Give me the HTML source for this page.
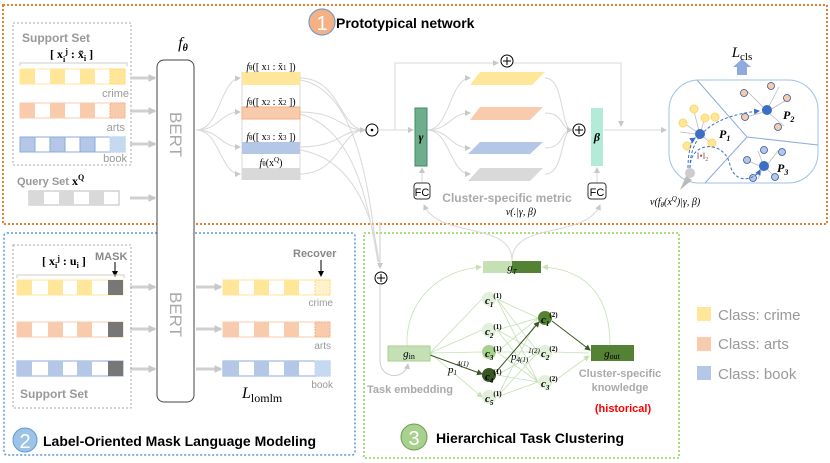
<!DOCTYPE html>
<html><head><meta charset="utf-8"><style>
body{margin:0;background:#fff}
svg{display:block;font-family:"Liberation Sans",sans-serif}
.s{font-family:"Liberation Serif",serif}
</style></head><body>
<svg width="830" height="463" viewBox="0 0 830 463" xmlns="http://www.w3.org/2000/svg">
<defs>
<marker id="ag" viewBox="0 0 6 6" markerUnits="userSpaceOnUse" markerWidth="6" markerHeight="6" refX="5" refY="3" orient="auto"><path d="M0,0 L6,3 L0,6z" fill="#c8c8c8"/></marker>
<marker id="agb" viewBox="0 0 6 6" markerUnits="userSpaceOnUse" markerWidth="8" markerHeight="8" refX="5" refY="3" orient="auto"><path d="M0,0 L6,3 L0,6z" fill="#c8c8c8"/></marker>
<marker id="agg" viewBox="0 0 6 6" markerUnits="userSpaceOnUse" markerWidth="6" markerHeight="6" refX="5" refY="3" orient="auto"><path d="M0,0 L6,3 L0,6z" fill="#c5e0b4"/></marker>
<marker id="agd" viewBox="0 0 6 6" markerUnits="userSpaceOnUse" markerWidth="6" markerHeight="6" refX="5" refY="3" orient="auto"><path d="M0,0 L6,3 L0,6z" fill="#385723"/></marker>
<marker id="ab" viewBox="0 0 6 6" markerUnits="userSpaceOnUse" markerWidth="6" markerHeight="6" refX="5" refY="3" orient="auto"><path d="M0,0 L6,3 L0,6z" fill="#000"/></marker>
<marker id="abl" viewBox="0 0 6 6" markerUnits="userSpaceOnUse" markerWidth="6" markerHeight="6" refX="5" refY="3" orient="auto"><path d="M0,0 L6,3 L0,6z" fill="#3d6fc4"/></marker>
</defs>
<!-- outer boxes -->
<rect x="3" y="5" width="824" height="219" fill="none" stroke="#ed7d31" stroke-width="2" stroke-dasharray="2,2"/>
<rect x="4" y="233" width="351" height="222" rx="3" fill="none" stroke="#5b9bd5" stroke-width="1.5" stroke-dasharray="2,2"/>
<rect x="364" y="233" width="315" height="225" fill="none" stroke="#92d050" stroke-width="1.5" stroke-dasharray="2,2"/>
<!-- title 1 -->
<circle cx="322" cy="22" r="13" fill="#f4b183" stroke="#7a9cc6" stroke-width="1.2"/>
<text x="322" y="30" font-size="20" fill="#fff" text-anchor="middle">1</text>
<text x="336" y="28" font-size="14" font-weight="bold">Prototypical network</text>
<!-- support set -->
<rect x="13" y="23" width="118" height="142" fill="none" stroke="#aaa" stroke-dasharray="2,2"/>
<text x="22" y="42" font-size="12" font-weight="bold" fill="#999">Support Set</text>
<text x="50" y="58" font-size="12" class="s" font-weight="bold">[ x<tspan font-size="8" dy="4">i</tspan><tspan font-size="8" dy="-8">j</tspan><tspan dy="4"> : x̃</tspan><tspan font-size="8" dy="3">i</tspan><tspan dy="-3"> ]</tspan></text>
<path d="M20,66 V63 H127 V66" fill="none" stroke="#ccc"/>
<rect x="20" y="69" width="105" height="15" fill="#fff" stroke="#ffe699"/>
<rect x="20" y="69" width="15" height="15" fill="#ffe699"/><rect x="50" y="69" width="15" height="15" fill="#ffe699"/><rect x="80" y="69" width="15" height="15" fill="#ffe699"/><rect x="110" y="69" width="15" height="15" fill="#ffe699" stroke="#ffd966" stroke-dasharray="2,1"/>
<rect x="20" y="103" width="105" height="15" fill="#fff" stroke="#f8cbad"/>
<rect x="20" y="103" width="15" height="15" fill="#f8cbad"/><rect x="50" y="103" width="15" height="15" fill="#f8cbad"/><rect x="80" y="103" width="15" height="15" fill="#f8cbad"/><rect x="110" y="103" width="15" height="15" fill="#f8cbad" stroke="#f4b183" stroke-dasharray="2,1"/>
<rect x="20" y="137" width="105" height="15" fill="#fff" stroke="#8faadc"/>
<rect x="20" y="137" width="15" height="15" fill="#b4c7e7" stroke="#8faadc"/><rect x="50" y="137" width="15" height="15" fill="#b4c7e7" stroke="#8faadc"/><rect x="80" y="137" width="15" height="15" fill="#b4c7e7" stroke="#8faadc"/><rect x="110" y="137" width="15" height="15" fill="#c5d9f1" stroke="#bdd7ee" stroke-dasharray="2,1"/>
<text x="129" y="97" font-size="11" fill="#999" text-anchor="end">crime</text>
<text x="125" y="131" font-size="11" fill="#999" text-anchor="end">arts</text>
<text x="127" y="162" font-size="11" fill="#999" text-anchor="end">book</text>
<text x="17" y="185" font-size="11" font-weight="bold" fill="#999">Query Set <tspan class="s" fill="#000" font-size="12">x<tspan font-size="8" dy="-5">Q</tspan></tspan></text>
<rect x="29" y="191" width="90" height="14" fill="#fff" stroke="#bbb"/>
<rect x="29" y="191" width="15" height="14" fill="#d9d9d9"/><rect x="59" y="191" width="15" height="14" fill="#d9d9d9"/><rect x="89" y="191" width="15" height="14" fill="#d9d9d9"/>
<g stroke="#d0d0d0" stroke-width="3" marker-end="url(#agb)">
<line x1="130" y1="78" x2="155" y2="78"/><line x1="130" y1="111" x2="155" y2="111"/><line x1="130" y1="144" x2="155" y2="144"/><line x1="130" y1="198" x2="155" y2="198"/>
<line x1="130" y1="287" x2="155" y2="287"/><line x1="130" y1="329" x2="155" y2="329"/><line x1="130" y1="369" x2="155" y2="369"/>
<line x1="196" y1="287" x2="221" y2="287"/><line x1="196" y1="329" x2="221" y2="329"/><line x1="196" y1="369" x2="221" y2="369"/>
</g>
<!-- BERT -->
<rect x="157" y="60" width="37" height="342" rx="7" fill="#fff" stroke="#444"/>
<text x="183" y="48" font-size="16" class="s" font-style="italic" text-anchor="middle">f<tspan font-size="10" dy="3" font-weight="bold">θ</tspan></text>
<text transform="translate(170,112) rotate(90)" font-size="17" fill="#aaa">BERT</text>
<text transform="translate(170,292) rotate(90)" font-size="17" fill="#aaa">BERT</text>
<!-- output bars -->
<g fill="none" stroke="#d8d8d8">
<path d="M196,130 C220,130 220,80 240,78" marker-end="url(#ag)"/>
<path d="M196,130 C220,130 220,112 240,112" marker-end="url(#ag)"/>
<path d="M196,130 C220,130 220,147 240,147" marker-end="url(#ag)"/>
<path d="M196,130 C220,130 220,174 240,174" marker-end="url(#ag)"/>
<path d="M300,78 C340,78 340,130 365,130"/><path d="M300,112 C340,112 340,130 365,130"/><path d="M300,147 C340,147 340,130 365,130"/><path d="M300,174 C340,174 340,130 365,130" marker-end="url(#ag)"/>
<path d="M300,80 C360,90 370,200 378,262"/><path d="M300,114 C360,130 370,220 378,262"/><path d="M300,150 C360,160 375,230 379,262"/>
<line x1="242" y1="72" x2="242" y2="180"/><line x1="300" y1="72" x2="300" y2="180"/>
</g>
<rect x="242" y="72" width="58" height="13" fill="#ffe699"/>
<rect x="242" y="107" width="58" height="12" fill="#f8cbad" stroke="#f4b183"/>
<rect x="242" y="142" width="58" height="12" fill="#b4c7e7"/>
<rect x="242" y="168" width="58" height="12" fill="#d9d9d9"/>
<g class="s" font-size="10" text-anchor="middle">
<text x="271" y="70"><tspan font-style="italic">f</tspan><tspan font-size="7">θ</tspan>([ x<tspan font-size="7">1</tspan> : x̃<tspan font-size="7">1</tspan> ])</text>
<text x="271" y="105"><tspan font-style="italic">f</tspan><tspan font-size="7">θ</tspan>([ x<tspan font-size="7">2</tspan> : x̃<tspan font-size="7">2</tspan> ])</text>
<text x="271" y="140"><tspan font-style="italic">f</tspan><tspan font-size="7">θ</tspan>([ x<tspan font-size="7">3</tspan> : x̃<tspan font-size="7">3</tspan> ])</text>
<text x="271" y="166"><tspan font-style="italic">f</tspan><tspan font-size="7">θ</tspan>(x<tspan font-size="7" dy="-4">Q</tspan><tspan dy="4">)</tspan></text>
</g>
<!-- odot -->
<circle cx="372" cy="130" r="6" fill="#fff" stroke="#000"/><circle cx="372" cy="130" r="1.3"/>
<g fill="none" stroke="#d8d8d8">
<line x1="378" y1="130" x2="413" y2="130" marker-end="url(#ag)"/>
<path d="M395,130 V63 H498" marker-end="url(#ag)"/>
<path d="M513,63 H621 V126" marker-end="url(#ag)"/>
<path d="M427,130 C450,130 450,78 470,78" marker-end="url(#ag)"/>
<path d="M427,130 C450,130 450,113 470,113" marker-end="url(#ag)"/>
<path d="M427,130 C450,130 450,148 470,148" marker-end="url(#ag)"/>
<path d="M427,130 C450,130 450,174 470,174" marker-end="url(#ag)"/>
<path d="M545,78 C565,78 560,130 572,130"/><path d="M545,113 C565,113 560,130 572,130"/><path d="M545,148 C565,148 560,130 572,130"/><path d="M545,174 C565,174 560,130 572,130" marker-end="url(#ag)"/>
<line x1="604" y1="130" x2="666" y2="130" marker-end="url(#ag)"/>
<line x1="422" y1="183" x2="422" y2="168" marker-end="url(#ag)"/>
<line x1="597" y1="183" x2="597" y2="168" marker-end="url(#ag)"/>
<path d="M512,261 C512,220 440,240 424,205" marker-end="url(#ag)"/>
<path d="M512,261 C512,220 585,240 600,205" marker-end="url(#ag)"/>
</g>
<rect x="415" y="108" width="12" height="58" fill="#70ad8e" stroke="#3b8a5e"/>
<text x="421" y="141" font-size="12" class="s" font-style="italic" font-weight="bold" text-anchor="middle">γ</text>
<rect x="591" y="108" width="12" height="58" fill="#b3ebd9"/>
<text x="597" y="141" font-size="12" class="s" font-style="italic" font-weight="bold" text-anchor="middle">β</text>
<rect x="414" y="183" width="16" height="16" rx="3" fill="#fff" stroke="#333"/><text x="422" y="196" font-size="11" text-anchor="middle">FC</text>
<rect x="588" y="183" width="18" height="16" rx="3" fill="#fff" stroke="#333"/><text x="597" y="196" font-size="11" text-anchor="middle">FC</text>
<polygon points="480,72 545,72 532,85 470,85" fill="#ffe699"/>
<polygon points="480,107 543,107 530,120 470,120" fill="#f8cbad"/>
<polygon points="480,142 543,142 530,154 468,154" fill="#b4c7e7"/>
<polygon points="480,168 543,168 530,181 468,181" fill="#d9d9d9"/>
<g fill="#fff" stroke="#000"><circle cx="507" cy="61" r="6"/><circle cx="579" cy="130" r="6"/><circle cx="381" cy="278" r="6"/></g>
<g stroke="#000"><path d="M503,61h8M507,57v8M575,130h8M579,126v8M377,278h8M381,274v8"/></g>
<text x="507" y="202" font-size="12" font-weight="bold" fill="#aaa" text-anchor="middle">Cluster-specific metric</text>
<text x="521" y="215" font-size="10" class="s" font-style="italic" text-anchor="middle">v(.|γ, β)</text>
<!-- blob -->
<rect x="669" y="80" width="149" height="103" rx="30" fill="#fff" stroke="#9dc3e6"/>
<g stroke="#8faadc" fill="none"><path d="M697,80 L747,137 L818,145 M747,137 L705,183"/></g>
<rect x="737" y="67" width="10" height="8" fill="#8faadc"/><polygon points="733,67 751,67 742,59" fill="#8faadc"/>
<text x="742" y="57" font-size="15" class="s" text-anchor="middle"><tspan font-style="italic">L</tspan><tspan font-size="11" dy="3">cls</tspan></text>
<g stroke="#bbb" stroke-width="0.8">
<path d="M694,111L699,131M685,124L697,132M705,117L701,131M689,145L697,136M710,143L703,136M680,132L696,134"/>
<path d="M747,91L765,109M779,87L768,108M788,99L770,110M746,117L764,112M784,126L770,114"/>
<path d="M758,151L763,164M778,151L767,165M748,161L760,166M758,179L762,169M776,178L767,169"/>
</g>
<g fill="#ffe699" stroke="#ffd966"><circle cx="694" cy="109" r="4"/><circle cx="683" cy="123" r="4"/><circle cx="705" cy="118" r="4"/><circle cx="715" cy="117" r="4"/><circle cx="712" cy="143" r="4"/><circle cx="687" cy="146" r="4"/></g>
<g fill="#f8cbad" stroke="#2f5597" stroke-width="0.8"><circle cx="744" cy="93" r="3.5"/><circle cx="771" cy="86" r="3.5"/><circle cx="787" cy="98" r="3.5"/><circle cx="745" cy="117" r="3.5"/><circle cx="778" cy="127" r="3.5"/></g>
<g fill="#b4c7e7" stroke="#2f5597" stroke-width="0.8"><circle cx="764" cy="150" r="3.5"/><circle cx="782" cy="152" r="3.5"/><circle cx="747" cy="160" r="3.5"/><circle cx="753" cy="178" r="3.5"/><circle cx="775" cy="177" r="3.5"/></g>
<g fill="#3d6fc4"><circle cx="700" cy="134" r="5"/><circle cx="767" cy="110" r="5"/><circle cx="764" cy="166" r="5"/></g>
<circle cx="690" cy="173" r="5" fill="#ccc"/>
<polygon points="680,190 686,176 692,180" fill="#bbb"/>
<g fill="none" stroke="#3d6fc4" stroke-dasharray="3,2">
<path d="M690,168 C690,130 720,115 759,111" marker-end="url(#abl)"/>
<path d="M688,168 C688,150 692,140 695,138" marker-end="url(#abl)"/>
<path d="M690,168 C690,140 725,140 730,165 C735,185 755,180 760,170" marker-end="url(#abl)"/>
</g>
<text x="719" y="138" font-size="12" class="s" font-weight="bold" font-style="italic">P<tspan font-size="8" dy="3">1</tspan></text>
<text x="783" y="119" font-size="12" class="s" font-weight="bold" font-style="italic">P<tspan font-size="8" dy="3">2</tspan></text>
<text x="777" y="172" font-size="12" class="s" font-weight="bold" font-style="italic">P<tspan font-size="8" dy="3">3</tspan></text>
<text x="697" y="159" font-size="9" class="s" fill="#a05050">‖•‖<tspan font-size="6" dy="2">2</tspan></text>
<text x="650" y="205" font-size="10" class="s" font-style="italic">v(f<tspan font-size="7" dy="2">θ</tspan><tspan dy="-2">(x</tspan><tspan font-size="7" dy="-4">Q</tspan><tspan dy="4">)|γ, β)</tspan></text>
<!-- section 2 -->
<circle cx="25" cy="440" r="12" fill="#9dc3e6" stroke="#5b9bd5"/>
<text x="25" y="448" font-size="20" fill="#fff" text-anchor="middle">2</text>
<text x="43" y="446" font-size="14" font-weight="bold">Label-Oriented Mask Language Modeling</text>
<rect x="13" y="245" width="118" height="163" fill="none" stroke="#aaa" stroke-dasharray="2,2"/>
<text x="42" y="265" font-size="12" class="s" font-weight="bold">[ x<tspan font-size="8" dy="3">i</tspan><tspan font-size="8" dy="-7">j</tspan><tspan dy="4"> : u</tspan><tspan font-size="8" dy="3">i</tspan><tspan dy="-3"> ]</tspan></text>
<text x="95" y="260" font-size="11" font-weight="bold" fill="#888">MASK</text>
<line x1="115" y1="262" x2="115" y2="276" stroke="#000" marker-end="url(#ab)"/>
<path d="M17,278 V275 H124 V278" fill="none" stroke="#ccc"/>
<text x="20" y="398" font-size="12" font-weight="bold" fill="#999">Support Set</text>
<rect x="17" y="280" width="106" height="15" fill="#fff" stroke="#ffe699"/><rect x="17" y="280" width="15" height="15" fill="#ffe699"/><rect x="48" y="280" width="15" height="15" fill="#ffe699"/><rect x="77" y="280" width="15" height="15" fill="#ffe699"/><rect x="108" y="280" width="15" height="15" fill="#777"/>
<rect x="17" y="322" width="106" height="15" fill="#fff" stroke="#f8cbad"/><rect x="17" y="322" width="15" height="15" fill="#f8cbad"/><rect x="48" y="322" width="15" height="15" fill="#f8cbad"/><rect x="77" y="322" width="15" height="15" fill="#f8cbad"/><rect x="108" y="322" width="15" height="15" fill="#777"/>
<rect x="17" y="361" width="106" height="15" fill="#fff" stroke="#8faadc"/><rect x="17" y="361" width="15" height="15" fill="#b4c7e7"/><rect x="48" y="361" width="15" height="15" fill="#b4c7e7"/><rect x="77" y="361" width="15" height="15" fill="#b4c7e7"/><rect x="108" y="361" width="15" height="15" fill="#777"/>
<rect x="223" y="280" width="107" height="15" fill="#fff" stroke="#ffe699"/><rect x="223" y="280" width="16" height="15" fill="#ffe699"/><rect x="254" y="280" width="15" height="15" fill="#ffe699"/><rect x="284" y="280" width="15" height="15" fill="#ffe699"/><rect x="315" y="280" width="15" height="15" fill="#fff2cc" stroke="#ffd966" stroke-dasharray="2,1"/>
<rect x="223" y="322" width="107" height="15" fill="#fff" stroke="#f8cbad"/><rect x="223" y="322" width="16" height="15" fill="#f8cbad"/><rect x="254" y="322" width="15" height="15" fill="#f8cbad"/><rect x="284" y="322" width="15" height="15" fill="#f8cbad"/><rect x="315" y="322" width="15" height="15" fill="#f8cbad" stroke="#f4b183" stroke-dasharray="2,1"/>
<rect x="223" y="361" width="107" height="15" fill="#fff" stroke="#8faadc"/><rect x="223" y="361" width="16" height="15" fill="#b4c7e7"/><rect x="254" y="361" width="15" height="15" fill="#b4c7e7"/><rect x="284" y="361" width="15" height="15" fill="#b4c7e7"/><rect x="315" y="361" width="15" height="15" fill="#c5d9f1" stroke="#bdd7ee" stroke-dasharray="2,1"/>
<text x="293" y="257" font-size="11" font-weight="bold" fill="#888">Recover</text>
<line x1="321" y1="260" x2="321" y2="276" stroke="#000" marker-end="url(#ab)"/>
<text x="333" y="306" font-size="10" fill="#999" text-anchor="end">crime</text>
<text x="331" y="349" font-size="10" fill="#999" text-anchor="end">arts</text>
<text x="333" y="388" font-size="10" fill="#999" text-anchor="end">book</text>
<text x="242" y="398" font-size="16" class="s"><tspan font-style="italic">L</tspan><tspan font-size="12" dy="4">lomlm</tspan></text>
<!-- section 3 -->
<circle cx="414" cy="437" r="13" fill="#a9d18e" stroke="#6a9c4d"/>
<text x="414" y="445" font-size="20" fill="#fff" text-anchor="middle">3</text>
<text x="436" y="443" font-size="14" font-weight="bold">Hierarchical Task Clustering</text>
<g fill="none" stroke="#ccc">
<line x1="380" y1="222" x2="380" y2="268" marker-end="url(#ag)"/>
<path d="M380,284 V360 C380,380 405,380 408,364" marker-end="url(#ag)"/>
</g>
<g fill="none" stroke="#c5e0b4" stroke-width="0.8">
<path d="M407,346 C405,300 440,270 481,267" marker-end="url(#agg)"/>
<path d="M610,345 C610,300 590,270 543,267" marker-end="url(#agg)"/>
<path d="M430,353 L482,299 M430,353 L482,330 M430,353 L482,352 M430,353 L482,397" marker-end="url(#agg)"/>
<path d="M497,299L538,318M497,299L538,352M497,299L538,382M497,330L538,318M497,330L538,352M497,330L538,382M497,352L538,318M497,352L538,352M497,352L538,382M497,375L538,352M497,375L538,382M497,397L538,318M497,397L538,352M497,397L538,382"/>
<path d="M553,352 L589,353 M553,382 L589,356" marker-end="url(#agg)"/>
</g>
<g fill="none" stroke="#385723">
<line x1="430" y1="355" x2="482" y2="374" marker-end="url(#agd)"/>
<line x1="496" y1="372" x2="539" y2="322" marker-end="url(#agd)"/>
<line x1="552" y1="321" x2="590" y2="350" marker-end="url(#agd)"/>
</g>
<rect x="483" y="261" width="29" height="12" fill="#c5e0b4"/><rect x="512" y="261" width="29" height="12" fill="#548235"/>
<text x="512" y="271" font-size="11" class="s" font-style="italic" text-anchor="middle">g<tspan font-size="7" dy="3">T</tspan></text>
<rect x="388" y="346" width="42" height="15" fill="#c5e0b4" stroke="#a9d18e"/>
<text x="409" y="357" font-size="11" class="s" text-anchor="middle"><tspan font-style="italic">g</tspan><tspan font-size="8" dy="2">in</tspan></text>
<rect x="591" y="345" width="43" height="16" fill="#548235"/>
<text x="612" y="357" font-size="11" class="s" text-anchor="middle"><tspan font-style="italic">g</tspan><tspan font-size="8" dy="2">out</tspan></text>
<g fill="#e2efda"><circle cx="489" cy="299" r="7"/><circle cx="489" cy="330" r="7"/><circle cx="489" cy="352" r="7" fill="#a9d18e"/><circle cx="489" cy="375" r="7" fill="#385723"/><circle cx="489" cy="397" r="7"/><circle cx="545" cy="318" r="7" fill="#548235"/><circle cx="545" cy="352" r="7"/><circle cx="545" cy="382" r="7"/></g>
<g class="s" font-size="11" font-weight="bold" font-style="italic">
<text x="485" y="304">c<tspan font-size="7" dy="3">1</tspan><tspan font-size="7" font-style="normal" dy="-9">(1)</tspan></text>
<text x="485" y="335">c<tspan font-size="7" dy="3">2</tspan><tspan font-size="7" font-style="normal" dy="-9">(1)</tspan></text>
<text x="485" y="357">c<tspan font-size="7" dy="3">3</tspan><tspan font-size="7" font-style="normal" dy="-9">(1)</tspan></text>
<text x="485" y="380">c<tspan font-size="7" dy="3">4</tspan><tspan font-size="7" font-style="normal" dy="-9">(1)</tspan></text>
<text x="485" y="402">c<tspan font-size="7" dy="3">5</tspan><tspan font-size="7" font-style="normal" dy="-9">(1)</tspan></text>
<text x="541" y="323">c<tspan font-size="7" dy="3">1</tspan><tspan font-size="7" font-style="normal" dy="-9">(2)</tspan></text>
<text x="541" y="357">c<tspan font-size="7" dy="3">2</tspan><tspan font-size="7" font-style="normal" dy="-9">(2)</tspan></text>
<text x="541" y="387">c<tspan font-size="7" dy="3">3</tspan><tspan font-size="7" font-style="normal" dy="-9">(2)</tspan></text>
</g>
<text x="448" y="373" font-size="11" class="s" font-style="italic">p<tspan font-size="7" dy="2">1</tspan><tspan font-size="7" dy="-9">4(1)</tspan></text>
<text x="511" y="360" font-size="11" class="s" font-style="italic">p<tspan font-size="7" dy="2">4(1)</tspan><tspan font-size="7" dy="-9">1(2)</tspan></text>
<text x="367" y="393" font-size="11" font-weight="bold" fill="#aaa">Task embedding</text>
<text x="620" y="377" font-size="11" font-weight="bold" fill="#aaa" text-anchor="middle">Cluster-specific</text>
<text x="620" y="391" font-size="11" font-weight="bold" fill="#aaa" text-anchor="middle">knowledge</text>
<text x="623" y="412" font-size="11" font-weight="bold" fill="#f00" text-anchor="middle">(historical)</text>
<!-- legend -->
<rect x="697" y="307" width="14" height="14" fill="#ffe699"/><text x="718" y="320" font-size="15" fill="#999">Class: crime</text>
<rect x="697" y="337" width="14" height="14" fill="#f8cbad"/><text x="718" y="349" font-size="15" fill="#999">Class:  arts</text>
<rect x="697" y="366" width="14" height="14" fill="#b4c7e7"/><text x="718" y="379" font-size="15" fill="#999">Class: book</text>
</svg>
</body></html>
